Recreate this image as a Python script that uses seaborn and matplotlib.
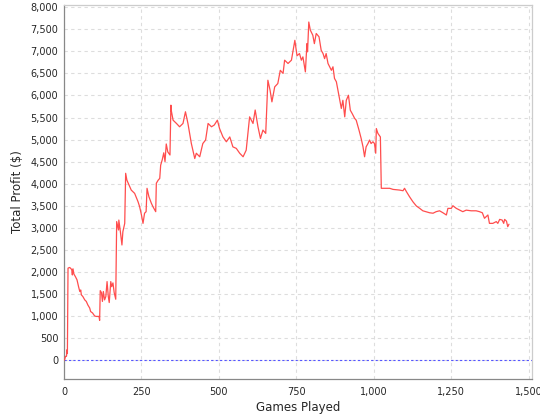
import pandas as pd
import matplotlib
matplotlib.use('Agg')
import matplotlib.pyplot as plt
import matplotlib.ticker as mticker
import seaborn as sns

# Cumulative profit, one vertex per noticeable turn
games = [
    0, 2, 5, 8, 10, 11, 13, 18, 21, 25, 27, 29, 32, 37, 42, 47, 51, 54, 56, 61,
    67, 72, 77, 83, 86, 92, 99, 104, 113, 115, 117, 121, 124, 127, 131, 135, 139, 143, 146, 151,
    154, 158, 162, 167, 170, 176, 177, 182, 187, 190, 196, 199, 203, 210, 217, 228, 239, 244, 250, 255,
    260, 265, 268, 274, 282, 287, 296, 298, 304, 309, 312, 317, 322, 326, 330, 335, 342, 345, 346, 352,
    363, 373, 384, 392, 400, 411, 422, 427, 438, 448, 457, 465, 476, 485, 495, 502, 513, 524, 535, 545,
    556, 567, 578, 588, 599, 610, 617, 626, 634, 642, 651, 658, 665, 671, 680, 690, 698, 707, 712, 723,
    734, 745, 752, 760, 766, 771, 779, 784, 786, 790, 795, 803, 808, 814, 823, 830, 836, 841, 846, 852,
    863, 868, 873, 879, 884, 890, 895, 900, 906, 911, 918, 924, 930, 938, 943, 952, 959, 965, 970, 975,
    981, 986, 991, 997, 1002, 1006, 1008, 1013, 1021, 1024, 1040, 1051, 1062, 1083, 1094, 1099, 1105, 1115, 1126, 1137,
    1148, 1158, 1180, 1191, 1201, 1212, 1223, 1234, 1239, 1250, 1255, 1266, 1277, 1287, 1298, 1314, 1330, 1341, 1350, 1357,
    1368, 1373, 1384, 1395, 1400, 1406, 1414, 1419, 1422, 1428, 1432, 1436,
]
profit = [
    0, 10, 85, 85, 235, 150, 2085, 2100, 2085, 2050, 1930, 2070, 1950, 1890, 1820, 1665, 1555, 1590, 1480, 1440,
    1365, 1330, 1250, 1180, 1100, 1070, 1000, 990, 990, 900, 1575, 1530, 1330, 1555, 1365, 1440, 1780, 1440, 1305, 1780,
    1665, 1750, 1530, 1380, 3140, 2950, 3175, 2910, 2610, 2910, 3100, 4235, 4080, 3970, 3855, 3780, 3590, 3480, 3290, 3100,
    3330, 3365, 3895, 3705, 3555, 3480, 3365, 4010, 4080, 4120, 4420, 4540, 4700, 4500, 4900, 4720, 4650, 5780, 5670, 5440,
    5365, 5290, 5365, 5630, 5365, 4910, 4570, 4690, 4610, 4910, 4990, 5365, 5290, 5330, 5440, 5250, 5060, 4950, 5060, 4835,
    4800, 4690, 4610, 4760, 5515, 5365, 5670, 5290, 5025, 5215, 5140, 6345, 6120, 5855, 6195, 6270, 6570, 6500, 6800, 6725,
    6800, 7250, 6900, 6950, 6800, 6875, 6535, 7175, 6990, 7665, 7480, 7365, 7175, 7405, 7330, 7025, 6950, 6835, 6950, 6725,
    6570, 6650, 6385, 6310, 6120, 5890, 5705, 5890, 5515, 5890, 6005, 5665, 5590, 5480, 5440, 5215, 5025, 4835, 4610, 4835,
    4910, 4990, 4910, 4950, 4910, 4690, 5250, 5140, 5060, 3895, 3895, 3895, 3870, 3855, 3840, 3895, 3820, 3705, 3590, 3495,
    3440, 3385, 3340, 3330, 3365, 3385, 3340, 3290, 3440, 3440, 3500, 3440, 3400, 3365, 3400, 3385, 3385, 3365, 3340, 3215,
    3290, 3100, 3100, 3140, 3100, 3190, 3175, 3100, 3190, 3150, 3025, 3080,
]
x_ticks = [0, 250, 500, 750, 1000, 1250, 1500]
y_ticks = list(range(0, 8001, 500))

df = pd.DataFrame({'games': games, 'profit': profit})

sns.set_style('white')
plt.rcParams['font.family'] = ['DejaVu Sans']

fig = plt.figure(figsize=(5.4, 4.2), dpi=100)
ax = fig.add_axes([0.1185, 0.098, 0.8665, 0.89])

# zero reference line
ax.axhline(0, color='#5555ff', linewidth=0.8, linestyle=(0, (2, 2)), zorder=2)
sns.lineplot(x='games', y='profit', data=df, color='#ff4d4d', linewidth=0.9, ax=ax, zorder=3)

ax.set_xlim(0, 1510)
ax.set_ylim(-425, 8050)
ax.set_xticks(x_ticks)
ax.set_yticks(y_ticks)
fmt = mticker.FuncFormatter(lambda v, p: f'{int(v):,}')
ax.xaxis.set_major_formatter(fmt)
ax.yaxis.set_major_formatter(fmt)

ax.grid(True, color='#dddddd', linestyle=(0, (3, 3)), linewidth=0.8)
ax.set_axisbelow(True)
ax.tick_params(axis='both', labelsize=7, length=2, width=0.8, color='#888888', pad=2)
ax.tick_params(axis='x', pad=4)
for side in ['left', 'bottom']:
    ax.spines[side].set_color('#888888')
for side in ['top', 'right']:
    ax.spines[side].set_color('#cccccc')
for s in ax.spines.values():
    s.set_linewidth(0.9)

ax.set_xlabel('Games Played', fontsize=8.5, labelpad=3)
ax.set_ylabel('Total Profit ($)', fontsize=8.5, labelpad=5)

fig.savefig('out.png', dpi=100)
